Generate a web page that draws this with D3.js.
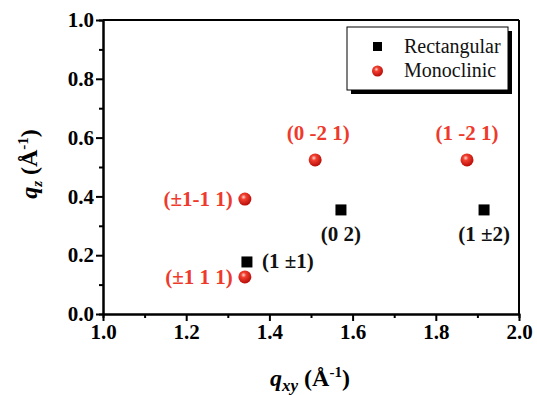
<!DOCTYPE html>
<html>
<head>
<meta charset="utf-8">
<script src="https://cdn.jsdelivr.net/npm/d3@7"></script>
<style>
  body { margin: 0; background: #fff; }
  svg text { font-family: "Liberation Serif", serif; }
</style>
</head>
<body>
<div id="rootDiv"></div>
<script>
// data
const rectQxy = [1.346, 1.572, 1.916]
const rectQz = [0.177, 0.354, 0.354]
const rectLabels = ["(1 \u00b11)", "(0 2)", "(1 \u00b12)"]
const monoQxy = [1.341, 1.341, 1.51, 1.875]
const monoQz = [0.126, 0.391, 0.524, 0.524]
const monoLabels = ["(\u00b11 1 1)", "(\u00b11-1 1)", "(0 -2 1)", "(1 -2 1)"]
const xTicks = [1.0, 1.2, 1.4, 1.6, 1.8, 2.0]
const yTicks = [0.0, 0.2, 0.4, 0.6, 0.8, 1.0]

const width = 537
const height = 395
const margin = { top: 20, right: 18, bottom: 81, left: 103 }
const red = "#ee3a2c"
const fontName = "Liberation Serif"

const svg = d3.select("#rootDiv").append("svg")
    .attr("width", width)
    .attr("height", height)
    .attr("font-family", fontName)

const defs = svg.append("defs")
const grad = defs.append("radialGradient")
    .attr("id", "ball").attr("cx", "40%").attr("cy", "35%").attr("r", "65%")
grad.append("stop").attr("offset", "0%").attr("stop-color", "#ffd8d0")
grad.append("stop").attr("offset", "30%").attr("stop-color", "#f24030")
grad.append("stop").attr("offset", "100%").attr("stop-color", "#b80c08")

const x = d3.scaleLinear().domain([1.0, 2.0]).range([margin.left, width - margin.right])
const y = d3.scaleLinear().domain([0, 1.0]).range([height - margin.bottom, margin.top])

// minor ticks
const xAxisMinor = svg.append("g")
    .attr("transform", `translate(0,${y(0)})`)
    .call(d3.axisBottom(x).tickValues(d3.range(1.1, 2.0, 0.2)).tickSize(4).tickFormat(""))
const yAxisMinor = svg.append("g")
    .attr("transform", `translate(${x(1.0)},0)`)
    .call(d3.axisLeft(y).tickValues(d3.range(0.1, 1.0, 0.2)).tickSize(4).tickFormat(""))

// major axes
const xAxis = svg.append("g")
    .attr("transform", `translate(0,${y(0)})`)
    .call(d3.axisBottom(x).tickValues(xTicks).tickSize(7).tickSizeOuter(0).tickPadding(3).tickFormat(d3.format(".1f")))
const yAxis = svg.append("g")
    .attr("transform", `translate(${x(1.0)},0)`)
    .call(d3.axisLeft(y).tickValues(yTicks).tickSize(7).tickSizeOuter(0).tickPadding(2).tickFormat(d3.format(".1f")))

for (const axis of [xAxis, yAxis, xAxisMinor, yAxisMinor]) {
    axis.attr("font-family", fontName).attr("font-size", 21).attr("font-weight", "bold")
    axis.selectAll("line").attr("stroke", "#000").attr("stroke-width", 2)
    axis.selectAll("path").attr("stroke", "#000").attr("stroke-width", 2)
    axis.selectAll("text").attr("fill", "#000")
}

// frame top and right
svg.append("line")
    .attr("x1", x(1.0)).attr("x2", x(2.0)).attr("y1", y(1.0)).attr("y2", y(1.0))
    .attr("stroke", "#000").attr("stroke-width", 2)
svg.append("line")
    .attr("x1", x(2.0)).attr("x2", x(2.0)).attr("y1", y(1.0)).attr("y2", y(0))
    .attr("stroke", "#000").attr("stroke-width", 2)

// rectangular points
const sq = 11
svg.selectAll("rect.pt")
    .data(rectQxy)
    .enter().append("rect")
    .attr("class", "pt")
    .attr("x", d => x(d) - sq / 2)
    .attr("y", (_d, i) => y(rectQz[i]) - sq / 2)
    .attr("width", sq).attr("height", sq)
    .attr("fill", "#000")

// monoclinic points
svg.selectAll("circle.pt")
    .data(monoQxy)
    .enter().append("circle")
    .attr("class", "pt")
    .attr("cx", d => x(d))
    .attr("cy", (_d, i) => y(monoQz[i]))
    .attr("r", 6.5)
    .attr("fill", "url(#ball)")

// labels for rectangular points
const rectLabelPos = [
    { dx: 15, dy: 6, anchor: "start" },
    { dx: 0, dy: 31, anchor: "middle" },
    { dx: 0, dy: 31, anchor: "middle" },
]
svg.selectAll("text.rlab")
    .data(rectLabels)
    .enter().append("text")
    .attr("class", "rlab")
    .attr("x", (_d, i) => x(rectQxy[i]) + rectLabelPos[i].dx)
    .attr("y", (_d, i) => y(rectQz[i]) + rectLabelPos[i].dy)
    .attr("text-anchor", (_d, i) => rectLabelPos[i].anchor)
    .attr("fill", "#111")
    .attr("font-size", 21).attr("font-weight", "bold")
    .text(d => d)

// labels for monoclinic points
const monoLabelPos = [
    { dx: -12, dy: 7, anchor: "end" },
    { dx: -12, dy: 7, anchor: "end" },
    { dx: 3, dy: -20, anchor: "middle" },
    { dx: 0, dy: -20, anchor: "middle" },
]
svg.selectAll("text.mlab")
    .data(monoLabels)
    .enter().append("text")
    .attr("class", "mlab")
    .attr("x", (_d, i) => x(monoQxy[i]) + monoLabelPos[i].dx)
    .attr("y", (_d, i) => y(monoQz[i]) + monoLabelPos[i].dy)
    .attr("text-anchor", (_d, i) => monoLabelPos[i].anchor)
    .attr("fill", red)
    .attr("font-size", 21).attr("font-weight", "bold")
    .text(d => d)

// legend
const lg = svg.append("g").attr("transform", "translate(347,27)")
lg.append("rect").attr("x", 4).attr("y", 4).attr("width", 161).attr("height", 63).attr("fill", "#000")
lg.append("rect").attr("width", 161).attr("height", 63).attr("fill", "#fff")
    .attr("stroke", "#000").attr("stroke-width", 1)
lg.append("rect").attr("x", 26).attr("y", 15).attr("width", 9).attr("height", 9).attr("fill", "#000")
lg.append("circle").attr("cx", 30.5).attr("cy", 44).attr("r", 5.5).attr("fill", "url(#ball)")
lg.append("text").attr("x", 57).attr("y", 26)
    .attr("font-size", 20).attr("fill", "#111").text("Rectangular")
lg.append("text").attr("x", 57).attr("y", 50)
    .attr("font-size", 20).attr("fill", "#111").text("Monoclinic")

// axis titles
const xt = svg.append("text")
    .attr("x", 310).attr("y", 386)
    .attr("text-anchor", "middle")
    .attr("font-size", 24).attr("font-weight", "bold")
xt.append("tspan").attr("font-style", "italic").text("q")
xt.append("tspan").attr("font-style", "italic").attr("font-size", 17).attr("dy", 5).text("xy")
xt.append("tspan").attr("dy", -5).text(" (\u00c5")
xt.append("tspan").attr("font-size", 15).attr("dy", -9).text("-1")
xt.append("tspan").attr("dy", 9).text(")")

const yt = svg.append("text")
    .attr("transform", "translate(37,164) rotate(-90)")
    .attr("text-anchor", "middle")
    .attr("font-size", 24).attr("font-weight", "bold")
yt.append("tspan").attr("font-style", "italic").text("q")
yt.append("tspan").attr("font-style", "italic").attr("font-size", 15).attr("dy", 5).text("z")
yt.append("tspan").attr("dy", -5).text(" (\u00c5")
yt.append("tspan").attr("font-size", 15).attr("dy", -9).text("-1")
yt.append("tspan").attr("dy", 9).text(")")
</script>
</body>
</html>
